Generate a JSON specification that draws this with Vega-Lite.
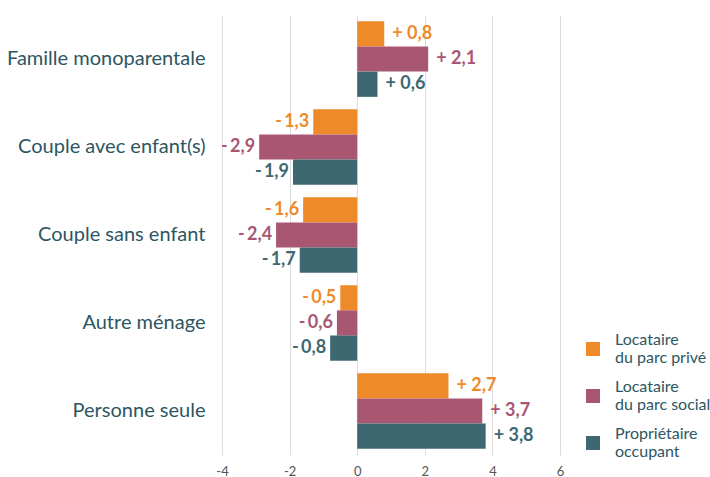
{
  "$schema": "https://vega.github.io/schema/vega-lite/v6.json",
  "width": 338,
  "height": 440,
  "autosize": {"type": "none"},
  "padding": {"left": 222, "top": 15, "right": 150, "bottom": 22},
  "background": "white",
  "config": {
    "font": "Lato",
    "view": {"stroke": null}
  },
  "data": {
    "values": [
      {"menage": "Famille monoparentale", "statut": "Locataire|du parc privé", "value": 0.8, "label": "+ 0,8"},
      {"menage": "Famille monoparentale", "statut": "Locataire|du parc social", "value": 2.1, "label": "+ 2,1"},
      {"menage": "Famille monoparentale", "statut": "Propriétaire|occupant", "value": 0.6, "label": "+ 0,6"},
      {"menage": "Couple avec enfant(s)", "statut": "Locataire|du parc privé", "value": -1.3, "label": "-\u20091,3"},
      {"menage": "Couple avec enfant(s)", "statut": "Locataire|du parc social", "value": -2.9, "label": "-\u20092,9"},
      {"menage": "Couple avec enfant(s)", "statut": "Propriétaire|occupant", "value": -1.9, "label": "-\u20091,9"},
      {"menage": "Couple sans enfant", "statut": "Locataire|du parc privé", "value": -1.6, "label": "-\u20091,6"},
      {"menage": "Couple sans enfant", "statut": "Locataire|du parc social", "value": -2.4, "label": "-\u20092,4"},
      {"menage": "Couple sans enfant", "statut": "Propriétaire|occupant", "value": -1.7, "label": "-\u20091,7"},
      {"menage": "Autre ménage", "statut": "Locataire|du parc privé", "value": -0.5, "label": "-\u20090,5"},
      {"menage": "Autre ménage", "statut": "Locataire|du parc social", "value": -0.6, "label": "-\u20090,6"},
      {"menage": "Autre ménage", "statut": "Propriétaire|occupant", "value": -0.8, "label": "-\u20090,8"},
      {"menage": "Personne seule", "statut": "Locataire|du parc privé", "value": 2.7, "label": "+ 2,7"},
      {"menage": "Personne seule", "statut": "Locataire|du parc social", "value": 3.7, "label": "+ 3,7"},
      {"menage": "Personne seule", "statut": "Propriétaire|occupant", "value": 3.8, "label": "+ 3,8"}
    ]
  },
  "encoding": {
    "y": {
      "field": "menage",
      "type": "nominal",
      "sort": ["Famille monoparentale", "Couple avec enfant(s)", "Couple sans enfant", "Autre ménage", "Personne seule"],
      "scale": {"paddingInner": 0.14, "paddingOuter": 0.07},
      "axis": {
        "title": null,
        "domain": false,
        "ticks": false,
        "grid": false,
        "labelFontSize": 20,
        "labelColor": "#2d5662",
        "labelPadding": 17,
        "labelLimit": 300
      }
    },
    "yOffset": {
      "field": "statut",
      "type": "nominal",
      "sort": ["Locataire|du parc privé", "Locataire|du parc social", "Propriétaire|occupant"],
      "scale": {"paddingInner": 0, "paddingOuter": 0}
    },
    "x": {
      "field": "value",
      "type": "quantitative",
      "scale": {"domain": [-4, 6], "nice": false},
      "axis": {
        "title": null,
        "values": [-4, -2, 0, 2, 4, 6],
        "domain": false,
        "ticks": false,
        "gridColor": "#dcdcdc",
        "gridWidth": 1,
        "labelFontSize": 13,
        "labelColor": "#555555",
        "labelPadding": 10,
        "labelFlush": false,
        "labelExpr": "toString(datum.value)"
      }
    },
    "color": {
      "field": "statut",
      "type": "nominal",
      "sort": ["Locataire|du parc privé", "Locataire|du parc social", "Propriétaire|occupant"],
      "scale": {
        "domain": ["Locataire|du parc privé", "Locataire|du parc social", "Propriétaire|occupant"],
        "range": ["#ee8a2a", "#a85672", "#3d6872"]
      },
      "legend": {
        "title": null,
        "orient": "none",
        "legendX": 363,
        "legendY": 326,
        "symbolType": "square",
        "symbolSize": 196,
        "symbolStrokeWidth": 0,
        "labelFontSize": 16,
        "labelColor": "#2d5662",
        "labelOffset": 14,
        "labelLimit": 200,
        "labelBaseline": "line-bottom",
        "rowPadding": 13,
        "labelExpr": "split(datum.label, '|')",
        "encode": {"labels": {"update": {"lineHeight": {"value": 18}}}}
      }
    }
  },
  "layer": [
    {"mark": {"type": "bar", "opacity": 1}},
    {
      "transform": [{"filter": "datum.value >= 0"}],
      "mark": {"type": "text", "align": "left", "dx": 8, "fontSize": 18, "fontWeight": "bold"},
      "encoding": {"text": {"field": "label"}, "color": {"field": "statut", "type": "nominal", "legend": null}}
    },
    {
      "transform": [{"filter": "datum.value < 0"}],
      "mark": {"type": "text", "align": "right", "dx": -4, "fontSize": 18, "fontWeight": "bold"},
      "encoding": {"text": {"field": "label"}, "color": {"field": "statut", "type": "nominal", "legend": null}}
    }
  ]
}
